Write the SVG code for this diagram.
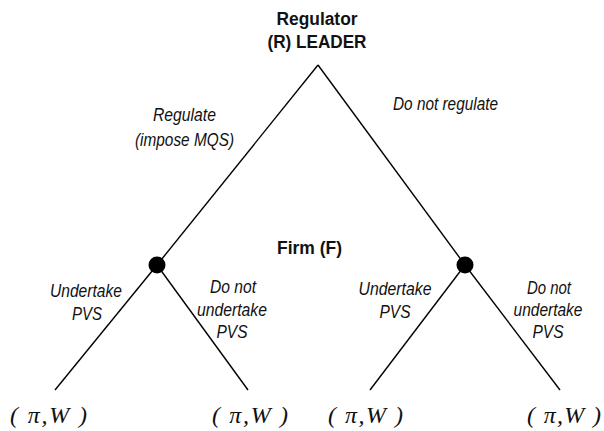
<svg xmlns="http://www.w3.org/2000/svg" width="604" height="431" viewBox="0 0 604 431">
<style>
.edge{stroke:#000;stroke-width:1.4;fill:none}
.dot{fill:#000}
.b{font-family:"Liberation Sans",Arial,sans-serif;font-weight:bold;font-size:18px;fill:#111;text-anchor:middle}
.i{font-family:"Liberation Sans",Arial,sans-serif;font-style:italic;font-size:17.5px;fill:#111;text-anchor:middle}
.p{font-family:"Liberation Serif","Times New Roman",serif;font-style:italic;font-size:24px;fill:#111}
</style>
<rect width="604" height="431" fill="#fff"/>
<g id="connectors">
<line class="edge" x1="318" y1="65" x2="157" y2="265"/>
<line class="edge" x1="318" y1="65" x2="465" y2="265"/>
<line class="edge" x1="157" y1="265" x2="55" y2="390"/>
<line class="edge" x1="157" y1="265" x2="248" y2="390"/>
<line class="edge" x1="465" y1="265" x2="370" y2="390"/>
<line class="edge" x1="465" y1="265" x2="560" y2="390"/>
</g>
<g id="regulator">
<text class="b" x="317" y="25" textLength="81" lengthAdjust="spacingAndGlyphs">Regulator</text>
<text class="b" x="317" y="48" textLength="99" lengthAdjust="spacingAndGlyphs">(R) LEADER</text>
</g>
<g id="label-regulate">
<text class="i" x="184.5" y="121" textLength="63" lengthAdjust="spacingAndGlyphs">Regulate</text>
<text class="i" x="184.5" y="146" textLength="99" lengthAdjust="spacingAndGlyphs">(impose MQS)</text>
</g>
<g id="label-donotregulate">
<text class="i" x="445.5" y="110" textLength="105" lengthAdjust="spacingAndGlyphs">Do not regulate</text>
</g>
<g id="firm-label">
<text class="b" x="309.5" y="254" textLength="65" lengthAdjust="spacingAndGlyphs">Firm (F)</text>
</g>
<g id="firm-node-left">
<circle class="dot" cx="157" cy="265" r="8.5"/>
</g>
<g id="firm-node-right">
<circle class="dot" cx="465" cy="265" r="8.5"/>
</g>
<g id="label-ll">
<text class="i" x="86" y="297" textLength="72" lengthAdjust="spacingAndGlyphs">Undertake</text>
<text class="i" x="87" y="320" textLength="30" lengthAdjust="spacingAndGlyphs">PVS</text>
</g>
<g id="label-lr">
<text class="i" x="233" y="293" textLength="46" lengthAdjust="spacingAndGlyphs">Do not</text>
<text class="i" x="232" y="316" textLength="70" lengthAdjust="spacingAndGlyphs">undertake</text>
<text class="i" x="232" y="338" textLength="31" lengthAdjust="spacingAndGlyphs">PVS</text>
</g>
<g id="label-rl">
<text class="i" x="395" y="295" textLength="73" lengthAdjust="spacingAndGlyphs">Undertake</text>
<text class="i" x="395" y="318" textLength="31" lengthAdjust="spacingAndGlyphs">PVS</text>
</g>
<g id="label-rr">
<text class="i" x="549" y="294" textLength="44" lengthAdjust="spacingAndGlyphs">Do not</text>
<text class="i" x="548" y="316" textLength="69" lengthAdjust="spacingAndGlyphs">undertake</text>
<text class="i" x="548" y="338" textLength="31" lengthAdjust="spacingAndGlyphs">PVS</text>
</g>
<g id="payoff-1"><text class="p" x="10" y="423" textLength="77" lengthAdjust="spacing">( π,W )</text></g>
<g id="payoff-2"><text class="p" x="212" y="423" textLength="76" lengthAdjust="spacing">( π,W )</text></g>
<g id="payoff-3"><text class="p" x="328" y="423" textLength="75" lengthAdjust="spacing">( π,W )</text></g>
<g id="payoff-4"><text class="p" x="527" y="423" textLength="74" lengthAdjust="spacing">( π,W )</text></g>
</svg>
